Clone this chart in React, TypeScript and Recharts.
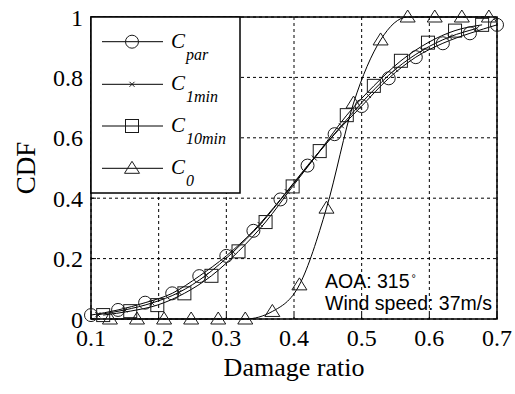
import React from 'react';
import {
  CartesianGrid,
  Label,
  Line,
  LineChart,
  ReferenceArea,
  XAxis,
  YAxis,
} from 'recharts';

// Damage-ratio CDFs for four capacity models (AOA 315°, 37 m/s).
const X_TICKS = [0.1, 0.2, 0.3, 0.4, 0.5, 0.6, 0.7];
const Y_TICKS = [0, 0.2, 0.4, 0.6, 0.8, 1];

const PAR_X = [0.1, 0.14, 0.18, 0.22, 0.26, 0.3, 0.34, 0.38, 0.42, 0.46, 0.5, 0.54, 0.58, 0.62, 0.66, 0.7];
const PAR_Y = [0.013, 0.03, 0.054, 0.085, 0.142, 0.209, 0.292, 0.396, 0.508, 0.612, 0.705, 0.797, 0.867, 0.913, 0.946, 0.974];

const MIN1_X = [0.11, 0.15, 0.19, 0.23, 0.27, 0.31, 0.35, 0.39, 0.43, 0.47, 0.51, 0.55, 0.59, 0.63, 0.67];
const MIN1_Y = [0.014, 0.03, 0.053, 0.088, 0.145, 0.222, 0.313, 0.422, 0.533, 0.64, 0.74, 0.827, 0.89, 0.934, 0.962];

const MIN10_X = [0.118, 0.158, 0.198, 0.238, 0.278, 0.318, 0.358, 0.398, 0.438, 0.478, 0.518, 0.558, 0.598, 0.638, 0.678];
const MIN10_Y = [0.013, 0.026, 0.046, 0.085, 0.143, 0.224, 0.321, 0.439, 0.556, 0.675, 0.772, 0.855, 0.915, 0.955, 0.974];

const C0_X = [0.128, 0.168, 0.208, 0.248, 0.288, 0.328, 0.368, 0.408, 0.448, 0.488, 0.528, 0.568, 0.608, 0.648, 0.688];
const C0_Y = [0, 0, 0, 0, 0, 0, 0.025, 0.113, 0.367, 0.715, 0.924, 1, 1, 1, 1];

const INK = '#000';
const MARK = '#1a1a1a';
const SERIF = '"Liberation Serif", "Times New Roman", serif';
const SANS = '"Liberation Sans", Arial, sans-serif';

const toPoints = (xs: number[], ys: number[]) => xs.map((x, i) => ({ x, y: ys[i] }));

type MarkerKind = 'circle' | 'cross' | 'square' | 'triangle';

function Marker({ kind, cx, cy }: { kind: MarkerKind; cx: number; cy: number }) {
  const common = { fill: 'none', stroke: MARK, strokeWidth: 1 };
  if (kind === 'circle') return <circle cx={cx} cy={cy} r={6.5} {...common} />;
  if (kind === 'square') return <rect x={cx - 6.5} y={cy - 6.5} width={13} height={13} {...common} />;
  if (kind === 'triangle') {
    return <polygon points={`${cx},${cy - 7} ${cx + 7.5},${cy + 5} ${cx - 7.5},${cy + 5}`} {...common} />;
  }
  return (
    <path d={`M${cx - 2.5},${cy - 2.5}L${cx + 2.5},${cy + 2.5}M${cx - 2.5},${cy + 2.5}L${cx + 2.5},${cy - 2.5}`} {...common} />
  );
}

const dotOf = (kind: MarkerKind) => (p: any) => {
  if (p.cx == null || p.cy == null) return <g key={p.index} />;
  return (
    <g key={p.index}>
      <Marker kind={kind} cx={p.cx} cy={p.cy} />
    </g>
  );
};

const SERIES: { name: string; sub: string; kind: MarkerKind; data: { x: number; y: number }[] }[] = [
  { name: 'C', sub: 'par', kind: 'circle', data: toPoints(PAR_X, PAR_Y) },
  { name: 'C', sub: '1min', kind: 'cross', data: toPoints(MIN1_X, MIN1_Y) },
  { name: 'C', sub: '10min', kind: 'square', data: toPoints(MIN10_X, MIN10_Y) },
  { name: 'C', sub: '0', kind: 'triangle', data: toPoints(C0_X, C0_Y) },
];

function YTitle(props: any) {
  const vb = props.viewBox || { y: 17, height: 302 };
  const cx = 26;
  const cy = vb.y + vb.height / 2;
  return (
    <text
      x={cx}
      y={cy}
      transform={`rotate(-90 ${cx} ${cy})`}
      textAnchor="middle"
      dominantBaseline="central"
      fontFamily={SERIF}
      fontSize={27}
      fill={INK}
    >
      CDF
    </text>
  );
}

function LegendBox() {
  const rows = [41.7, 84.3, 126, 168.3];
  return (
    <g>
      <rect x={91} y={17} width={149} height={176} fill="#fff" stroke={INK} strokeWidth={1.5} />
      {SERIES.map((s, i) => (
        <g key={s.sub}>
          <line x1={102} x2={163} y1={rows[i]} y2={rows[i]} stroke={INK} strokeWidth={1} />
          <Marker kind={s.kind} cx={132} cy={rows[i]} />
          <text x={171} y={rows[i] + 6} fontFamily={SERIF} fontStyle="italic" fontSize={21} fill={INK}>
            {s.name}
            <tspan fontSize={16} dx={1} dy={12}>
              {s.sub}
            </tspan>
          </text>
        </g>
      ))}
    </g>
  );
}

export default function App() {
  return (
    <div style={{ position: 'absolute', left: 0, top: 0, width: 515, height: 394, background: '#fff' }}>
      <LineChart width={515} height={394} margin={{ top: 17, right: 18, bottom: 0, left: 0 }}>
        <CartesianGrid stroke={INK} strokeDasharray="3 3" strokeWidth={1} />
        <XAxis
          type="number"
          dataKey="x"
          domain={[0.1, 0.7]}
          ticks={X_TICKS}
          height={75}
          axisLine={false}
          tickSize={-5}
          tickMargin={15}
          tickLine={{ stroke: INK }}
          tick={{ fontFamily: SERIF, fontSize: 24, fill: INK }}
          allowDuplicatedCategory={false}
        >
          <Label
            value="Damage ratio"
            position="insideBottom"
            offset={18}
            style={{ fontFamily: SERIF, fontSize: 26, fill: INK }}
          />
        </XAxis>
        <YAxis
          type="number"
          dataKey="y"
          domain={[0, 1]}
          ticks={Y_TICKS}
          width={91}
          axisLine={false}
          tickSize={-5}
          tickMargin={13}
          tickLine={{ stroke: INK }}
          tick={{ fontFamily: SERIF, fontSize: 24, fill: INK }}
        >
          <Label content={<YTitle />} />
        </YAxis>
        <ReferenceArea x1={0.1} x2={0.7} y1={0} y2={1} fill="none" stroke={INK} strokeWidth={1.5} />
        {SERIES.map((s) => (
          <Line
            key={s.sub}
            data={s.data}
            dataKey="y"
            type="monotone"
            stroke={INK}
            strokeWidth={1}
            dot={dotOf(s.kind)}
            activeDot={false}
            isAnimationActive={false}
          />
        ))}
      </LineChart>
      <svg
        width={515}
        height={394}
        style={{ position: 'absolute', left: 0, top: 0, pointerEvents: 'none' }}
      >
        <LegendBox />
        <text x={325} y={288} fontFamily={SANS} fontSize={19.5} fill={INK}>
          AOA: 315
          <tspan fontSize={11} dx={2} dy={-6}>
            °
          </tspan>
        </text>
        <text x={325} y={310} fontFamily={SANS} fontSize={19.5} fill={INK}>
          Wind speed: 37m/s
        </text>
      </svg>
    </div>
  );
}
